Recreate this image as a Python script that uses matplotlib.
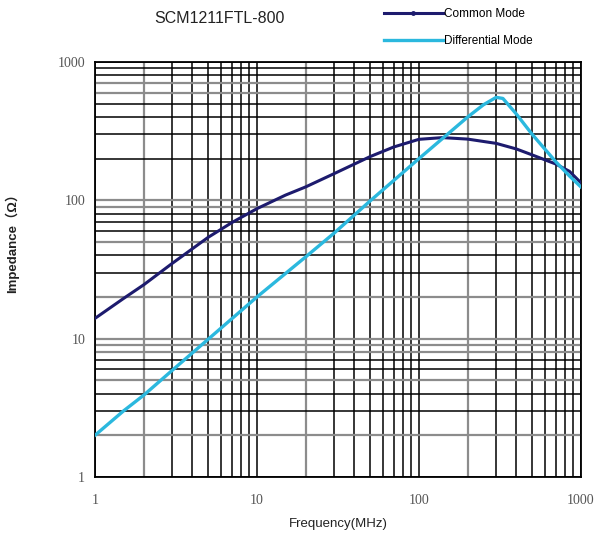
import matplotlib
matplotlib.use("Agg")
import matplotlib.pyplot as plt
from matplotlib.lines import Line2D
from matplotlib.ticker import LogLocator, FixedLocator, NullFormatter

# (MHz, ohm)
cm_freq = [1, 1.5, 2, 3, 5, 7, 10, 15, 20, 30, 50, 70, 100, 140, 200, 300, 400, 500, 700, 850, 1000]
cm_imp = [14, 19.5, 24.5, 35, 54, 69, 87, 109, 125, 156, 207, 243, 276, 284, 277, 258, 235, 213, 183, 162, 134]

dm_freq = [1, 1.5, 2, 3, 5, 10, 20, 30, 50, 100, 150, 200, 250, 300, 330, 400, 500, 700, 850, 1000]
dm_imp = [2.0, 3.0, 3.9, 5.9, 9.9, 20, 39, 58, 99, 200, 300, 400, 490, 555, 545, 420, 300, 190, 150, 125]

x_ticks = [1, 10, 100, 1000]
y_ticks = [1, 10, 100, 1000]

# which grid lines look grey in the scan
y_grey = {2, 5, 8, 9, 10, 20, 50, 90, 100, 600, 700}

navy = "#1d1b6e"
cyan = "#2bb8de"
grey = "#8c8c8c"

fig = plt.figure(figsize=(5.97, 5.38), dpi=100)
ax = fig.add_axes([0.159, 0.1134, 0.814, 0.7714])

ax.plot(cm_freq, cm_imp, color=navy, lw=2.2, zorder=3)
ax.plot(dm_freq, dm_imp, color=cyan, lw=2.4, zorder=3)

ax.set_xscale("log")
ax.set_yscale("log")
ax.set_xlim(1, 1000)
ax.set_ylim(1, 1000)

ax.xaxis.set_major_locator(FixedLocator(x_ticks))
ax.yaxis.set_major_locator(FixedLocator(y_ticks))
ax.xaxis.set_minor_locator(LogLocator(base=10, subs=range(2, 10)))
ax.yaxis.set_minor_locator(LogLocator(base=10, subs=range(2, 10)))
ax.xaxis.set_minor_formatter(NullFormatter())
ax.yaxis.set_minor_formatter(NullFormatter())
ax.set_xticklabels([str(t) for t in x_ticks])
ax.set_yticklabels([str(t) for t in y_ticks])

ax.grid(True, which="both", color="black", lw=1.1)
ax.set_axisbelow(True)

fig.canvas.draw()
for tick, loc in zip(ax.xaxis.get_minor_ticks(), ax.xaxis.get_minorticklocs()):
    lead = round(loc / 10 ** (len(str(int(round(loc)))) - 1))
    if lead == 2:
        tick.gridline.set_color(grey)
        tick.gridline.set_linewidth(1.6)
for tick, loc in zip(ax.yaxis.get_minor_ticks(), ax.yaxis.get_minorticklocs()):
    if int(round(loc)) in y_grey:
        tick.gridline.set_color(grey)
        tick.gridline.set_linewidth(1.6)
for tick, loc in zip(ax.yaxis.get_major_ticks(), ax.yaxis.get_majorticklocs()):
    if int(round(loc)) in y_grey:
        tick.gridline.set_color(grey)
        tick.gridline.set_linewidth(1.6)

for s in ax.spines.values():
    s.set_color("black")
    s.set_linewidth(1.3)

ax.tick_params(which="both", length=0)
ax.tick_params(axis="x", pad=12)
ax.tick_params(axis="y", pad=7)
for lab in ax.get_xticklabels() + ax.get_yticklabels():
    lab.set_fontfamily("Liberation Serif")
    lab.set_fontsize(10)
    lab.set_color("#555555")

ax.set_xlabel("Frequency(MHz)", fontsize=9.5, family="Liberation Sans", color="#222222", labelpad=8)
ax.set_ylabel("Impedance（Ω）", fontsize=9.5, family=["Liberation Sans", "Noto Sans CJK SC"],
              fontweight="bold", color="#222222")
ax.yaxis.set_label_coords(-0.155, 0.57)

fig.text(0.368, 0.966, "SCM1211FTL-800", fontsize=11.5, family="Liberation Sans",
         color="#222222", ha="center", va="center")

handles = [Line2D([], [], color=navy, lw=2.2, marker="o", markersize=2.5),
           Line2D([], [], color=cyan, lw=2.4)]
fig.legend(handles, ["Common Mode", "Differential Mode"], loc="upper left",
           bbox_to_anchor=(0.625, 1.005), frameon=False, handlelength=5.0,
           handletextpad=0.1, labelspacing=1.25, numpoints=1,
           prop={"family": "Liberation Sans", "size": 8.5})

fig.savefig("out.png", dpi=100)
